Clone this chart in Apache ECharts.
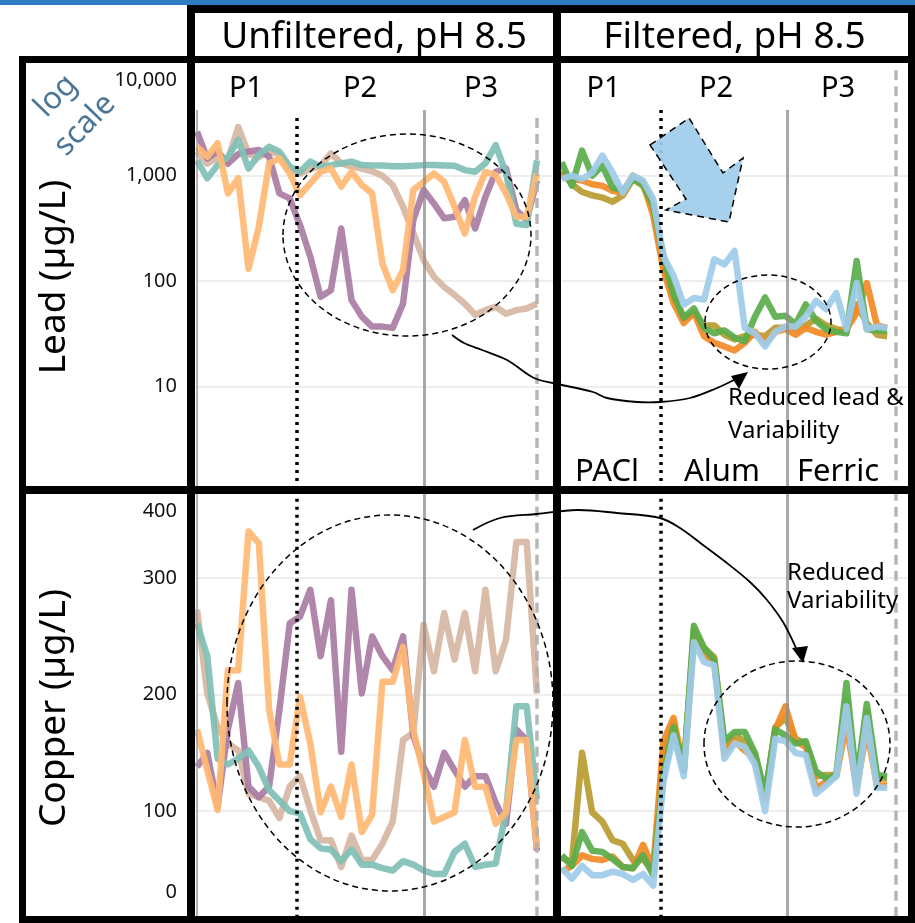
<!DOCTYPE html>
<html>
<head>
<meta charset="utf-8">
<title>Lead and copper release, pH 8.5</title>
<script src="https://cdn.jsdelivr.net/npm/echarts@6.0.0/dist/echarts.min.js"></script>
<style>
  html, body { margin: 0; padding: 0; background: #fff; }
  #chart { width: 915px; height: 923px; }
</style>
</head>
<body>
<div id="chart"></div>
<script>
// ----------------------------
// data: one value per sampling week (index 0..n)
// ----------------------------

// lead, unfiltered (µg/L)
const unfLeadTeal   = [1400, 945, 1260, 1500, 2180, 1170, 1570, 1880, 1690, 1220, 1090, 1360, 1220, 1260, 1310, 1360, 1260, 1250, 1250, 1230, 1230, 1240, 1260, 1260, 1250, 1240, 1130, 1090, 1310, 1950, 1050, 350, 340, 1400]
const unfLeadPurple = [2620, 1460, 1700, 1300, 1600, 1700, 1750, 1515, 680, 609, 340, 170, 71, 82, 316, 66, 46, 37, 37, 36, 61, 380, 731, 546, 394, 408, 587, 316, 632, 1090, 1170, 472, 380, 900]
const unfLeadTan    = [1700, 1300, 1500, 1400, 2900, 1600, 1500, 1700, 1600, 1150, 1050, 1150, 1250, 1630, 1310, 1220, 1170, 1100, 1000, 815, 508, 286, 158, 110, 88, 74, 61, 48, 53, 57, 49, 53, 55, 61]
const unfLeadOrange = [1880, 1515, 2030, 680, 945, 131, 328, 1310, 1460, 1050, 655, 845, 1090, 1175, 786, 1090, 815, 680, 147, 82, 127, 730, 877, 1050, 877, 508, 283, 632, 1090, 1015, 680, 408, 408, 1050]

// lead, filtered (µg/L)
const filLeadOlive  = [1100, 830, 700, 650, 620, 565, 650, 930, 800, 480, 145, 72, 44, 50, 38, 38, 31, 28, 30, 31, 30, 36, 36, 36, 38, 44, 38, 35, 34, 60, 40, 31, 30]
const filLeadOrange = [1000, 930, 900, 830, 800, 720, 690, 1000, 850, 420, 128, 62, 40, 50, 30, 26, 24, 22, 26, 33, 26, 33, 35, 31, 36, 33, 31, 33, 35, 50, 96, 38, 36]
const filLeadGreen  = [1340, 803, 1730, 1000, 1245, 774, 720, 930, 833, 518, 173, 75, 45, 55, 36, 32, 34, 29, 27, 46, 70, 46, 47, 39, 60, 42, 35, 33, 32, 155, 35, 34, 34]
const filLeadBlue   = [930, 1000, 930, 1076, 1550, 1076, 693, 1000, 896, 600, 173, 112, 60, 69, 67, 161, 144, 193, 36, 32, 24, 33, 37, 37, 46, 65, 54, 77, 35, 96, 35, 37, 36]

// copper, unfiltered (µg/L)
const unfCuTan    = [273, 201, 172, 158, 152, 115, 112, 109, 94, 121, 130, 101, 75, 75, 52, 79, 58, 58, 72, 91, 161, 167, 260, 220, 270, 230, 270, 220, 290, 220, 247, 331, 331, 201]
const unfCuPurple = [138, 150, 104, 170, 210, 121, 112, 121, 187, 261, 267, 290, 233, 281, 151, 290, 201, 250, 233, 221, 250, 165, 138, 121, 150, 135, 121, 130, 130, 107, 89, 170, 161, 66]
const unfCuTeal   = [261, 233, 145, 140, 145, 152, 138, 118, 109, 100, 98, 76, 68, 67, 57, 67, 54, 54, 51, 49, 57, 54, 49, 46, 46, 65, 72, 52, 54, 55, 100, 190, 190, 110]
const unfCuOrange = [170, 135, 101, 221, 221, 340, 330, 187, 140, 140, 198, 158, 99, 121, 95, 140, 82, 97, 211, 211, 241, 170, 132, 91, 95, 99, 161, 121, 121, 89, 99, 161, 161, 68]

// copper, filtered (µg/L)
const filCuOlive  = [60, 56, 150, 99, 91, 75, 72, 58, 59, 48, 150, 175, 135, 255, 240, 232, 155, 165, 160, 148, 110, 172, 180, 162, 158, 130, 131, 131, 195, 122, 185, 128, 128]
const filCuOrange = [48, 53, 62, 59, 58, 61, 52, 51, 71, 51, 160, 180, 135, 250, 235, 228, 150, 160, 152, 145, 110, 170, 190, 160, 155, 120, 125, 130, 175, 120, 170, 122, 122]
const filCuGreen  = [62, 53, 82, 66, 65, 59, 52, 51, 62, 45, 130, 172, 135, 259, 240, 230, 160, 168, 168, 150, 115, 170, 165, 158, 160, 134, 128, 131, 210, 125, 192, 131, 130]
const filCuBlue   = [51, 42, 53, 45, 45, 48, 46, 41, 46, 36, 125, 165, 130, 245, 228, 225, 145, 158, 155, 140, 100, 162, 160, 150, 148, 115, 122, 130, 190, 115, 180, 120, 120]

// week where coagulant changes (P1|P2, P2|P3, end of run)
const unfPhaseBreaks = [9.7, 22.1, 33.0]
const filPhaseBreaks = [9.7, 22.15, 32.8]

// tick labels
const leadTicks = ['10,000', '1,000', '100', '10']
const copperTicks = ['400', '300', '200', '100', '0']
const phaseNames = ['P1', 'P2', 'P3']
const coagulants = ['PACl', 'Alum', 'Ferric']

const FONT = '"Noto Sans", "Open Sans", sans-serif'

const pts = arr => arr.map((v, i) => [i, v])

const lineSeries = (name, data, color, idx, marks) => {
    const s = {
        name,
        type: 'line',
        xAxisIndex: idx,
        yAxisIndex: idx,
        data: pts(data),
        symbol: 'none',
        showSymbol: false,
        smooth: false,
        silent: true,
        animation: false,
        lineStyle: { color, width: 6.5, opacity: 0.92, join: 'round' },
        itemStyle: { color },
    }
    if (marks) s.markLine = marks
    return s
}

// vertical phase separators drawn in data coordinates
const phaseLines = (breaks, dotTop, solidTop, dashTop, bottom, withAxis) => {
    const data = [
        [{ coord: [breaks[0], dotTop], lineStyle: { color: '#000', width: 3.5, type: [3, 5] } }, { coord: [breaks[0], bottom] }],
        [{ coord: [breaks[1], solidTop], lineStyle: { color: 'rgba(140,140,140,0.75)', width: 3, type: 'solid' } }, { coord: [breaks[1], bottom] }],
        [{ coord: [breaks[2], dashTop], lineStyle: { color: 'rgba(175,175,175,0.9)', width: 3.5, type: [10, 6] } }, { coord: [breaks[2], bottom] }],
    ]
    if (withAxis) {
        data.push([{ coord: [0, solidTop], lineStyle: { color: '#999', width: 1.5, type: 'solid' } }, { coord: [0, bottom] }])
    }
    return { silent: true, symbol: ['none', 'none'], label: { show: false }, animation: false, data }
}

const commas = v => String(v).replace(/\B(?=(\d{3})+(?!\d))/g, ',')

const grids = [
    { left: 197, top: 70.3, width: 356, height: 421.6 },
    { left: 561.7, top: 70.3, width: 346.3, height: 421.6 },
    { left: 197, top: 461.6, width: 356, height: 466 },
    { left: 561.7, top: 461.6, width: 346.3, height: 466 },
].map(g => ({ ...g, containLabel: false, outerBoundsMode: 'none', show: false }))

const xAxes = [34.56, 34.05, 34.56, 34.05].map((max, i) => ({
    type: 'value', gridIndex: i, min: 0, max, show: false,
}))

const splitLine = { show: true, showMinLine: false, showMaxLine: false, lineStyle: { color: '#e8e8e8', width: 1.5 } }
const tickLabel = (show, fmt) => ({
    show, showMinLabel: false, showMaxLabel: false, margin: 20,
    fontFamily: FONT, fontSize: 20, color: '#111', formatter: fmt,
})

const yAxes = [
    { type: 'log', logBase: 10, gridIndex: 0, min: 1, max: 10000, axisLine: { show: false }, axisTick: { show: false }, splitLine, axisLabel: tickLabel(true, commas) },
    { type: 'log', logBase: 10, gridIndex: 1, min: 1, max: 10000, axisLine: { show: false }, axisTick: { show: false }, splitLine, axisLabel: tickLabel(false) },
    { type: 'value', gridIndex: 2, min: 0, max: 400, interval: 100, axisLine: { show: false }, axisTick: { show: false }, splitLine, axisLabel: tickLabel(true) },
    { type: 'value', gridIndex: 3, min: 0, max: 400, interval: 100, axisLine: { show: false }, axisTick: { show: false }, splitLine, axisLabel: tickLabel(false) },
]

const C = {
    teal: '#7fc0b6', purple: '#a97ca4', tan: '#d6b6a2', lightOrange: '#ffb873',
    olive: '#b89c30', orange: '#f28a24', green: '#5aac4b', blue: '#9ecbea',
}

const series = [
    lineSeries('Tan', unfLeadTan, C.tan, 0),
    lineSeries('Purple', unfLeadPurple, C.purple, 0),
    lineSeries('Teal', unfLeadTeal, C.teal, 0),
    lineSeries('Orange', unfLeadOrange, C.lightOrange, 0, phaseLines(unfPhaseBreaks, 3525, 4200, 3525, 1, true)),

    lineSeries('Olive', filLeadOlive, C.olive, 1),
    lineSeries('Orange', filLeadOrange, C.orange, 1),
    lineSeries('Green', filLeadGreen, C.green, 1),
    lineSeries('Blue', filLeadBlue, C.blue, 1, phaseLines(filPhaseBreaks, 4200, 4200, 10000, 1, false)),

    lineSeries('Tan', unfCuTan, C.tan, 2),
    lineSeries('Purple', unfCuPurple, C.purple, 2),
    lineSeries('Teal', unfCuTeal, C.teal, 2),
    lineSeries('Orange', unfCuOrange, C.lightOrange, 2, phaseLines(unfPhaseBreaks, 375, 375, 375, 0, true)),

    lineSeries('Olive', filCuOlive, C.olive, 3),
    lineSeries('Orange', filCuOrange, C.orange, 3),
    lineSeries('Green', filCuGreen, C.green, 3),
    lineSeries('Blue', filCuBlue, C.blue, 3, phaseLines(filPhaseBreaks, 375, 375, 375, 0, false)),
]

// ----------------------------
// frame, titles and annotations
// ----------------------------
const bar = (x, y, w, h) => ({ type: 'rect', z: 100, silent: true, shape: { x, y, width: w, height: h }, style: { fill: '#000' } })
const txt = (text, x, y, size, opts = {}) => ({
    type: 'text', z: 101, silent: true, x, y, rotation: opts.rotation || 0,
    style: {
        text, font: `${size}px ${FONT}`, fill: opts.color || '#000',
        align: opts.align || 'center', verticalAlign: 'middle',
    },
})
const ring = (cx, cy, rx, ry) => ({
    type: 'ellipse', z: 90, silent: true, shape: { cx, cy, rx, ry },
    style: { fill: 'none', stroke: '#000', lineWidth: 1.5, lineDash: [6, 4] },
})
const curve = (points) => ({
    type: 'polyline', z: 90, silent: true, shape: { points, smooth: 0.35 },
    style: { fill: 'none', stroke: '#000', lineWidth: 1.8 },
})
const head = (points) => ({ type: 'polygon', z: 91, silent: true, shape: { points }, style: { fill: '#000' } })

const graphic = [
    { type: 'rect', z: 100, silent: true, shape: { x: 0, y: 0, width: 915, height: 5 }, style: { fill: '#2f7dc0' } },

    // thick black frame
    bar(187, 5, 728, 8),
    bar(19, 56, 896, 7),
    bar(19, 486, 896, 8),
    bar(19, 916, 896, 7),
    bar(19, 56, 7, 867),
    bar(187, 5, 8, 918),
    bar(553, 5, 8, 918),
    bar(908, 5, 7, 918),

    txt('Unfiltered, pH 8.5', 374, 37, 37),
    txt('Filtered, pH 8.5', 734.5, 37, 37),

    txt(phaseNames[0], 246, 89, 29), txt(phaseNames[1], 360, 89, 29), txt(phaseNames[2], 481, 89, 29),
    txt(phaseNames[0], 603.5, 89, 29), txt(phaseNames[1], 716, 89, 29), txt(phaseNames[2], 838, 89, 29),

    txt(coagulants[0], 607, 472, 31), txt(coagulants[1], 722, 472, 31), txt(coagulants[2], 838, 472, 31),

    txt('Lead (µg/L)', 54, 277, 37, { rotation: Math.PI / 2 }),
    txt('Copper (µg/L)', 54, 708, 37, { rotation: Math.PI / 2 }),

    txt('log', 56, 96, 31, { rotation: 0.8, color: '#4b7597' }),
    txt('scale', 85, 125, 31, { rotation: 0.8, color: '#4b7597' }),

    // end ticks that sit off the plotted range
    txt(leadTicks[0], 177, 80, 20, { align: 'right', color: '#111' }),
    txt(copperTicks[0], 177, 511, 20, { align: 'right', color: '#111' }),
    txt(copperTicks[4], 177, 892, 20, { align: 'right', color: '#111' }),

    txt('Reduced lead &', 728, 398, 24, { align: 'left' }),
    txt('Variability', 728, 431, 24, { align: 'left' }),
    txt('Reduced', 787, 573, 24, { align: 'left' }),
    txt('Variability', 787, 601, 24, { align: 'left' }),

    ring(407, 235, 124, 101),
    ring(768, 322, 63, 47),
    ring(390, 703, 163, 188),
    ring(797, 744, 93, 83),

    // big blue arrow
    {
        type: 'polygon', z: 92, silent: true,
        shape: { points: [[650, 145], [689, 118], [723, 173], [743, 158], [729, 222], [666, 210], [686, 199]] },
        style: { fill: 'rgba(160,204,236,0.92)', stroke: '#000', lineWidth: 1.5, lineDash: [7, 5] },
    },

    curve([[452, 335], [464, 343], [482, 350], [507, 360], [534, 378], [553, 383], [593, 392], [607, 398], [637, 402], [660, 402], [690, 398], [717, 388], [736, 379]]),
    head([[748, 372], [731, 376], [739, 389]]),

    curve([[473, 530], [500, 518], [537, 514], [577, 510], [617, 513], [660, 518], [680, 528], [703, 545], [723, 560], [750, 582], [767, 600], [783, 622], [796, 648]]),
    head([[803, 663], [792, 648], [808, 646]]),
]

const chart = echarts.init(document.getElementById('chart'), null, { renderer: 'canvas' })
chart.setOption({
    animation: false,
    backgroundColor: '#fff',
    grid: grids,
    xAxis: xAxes,
    yAxis: yAxes,
    series,
    graphic,
})
</script>
</body>
</html>
